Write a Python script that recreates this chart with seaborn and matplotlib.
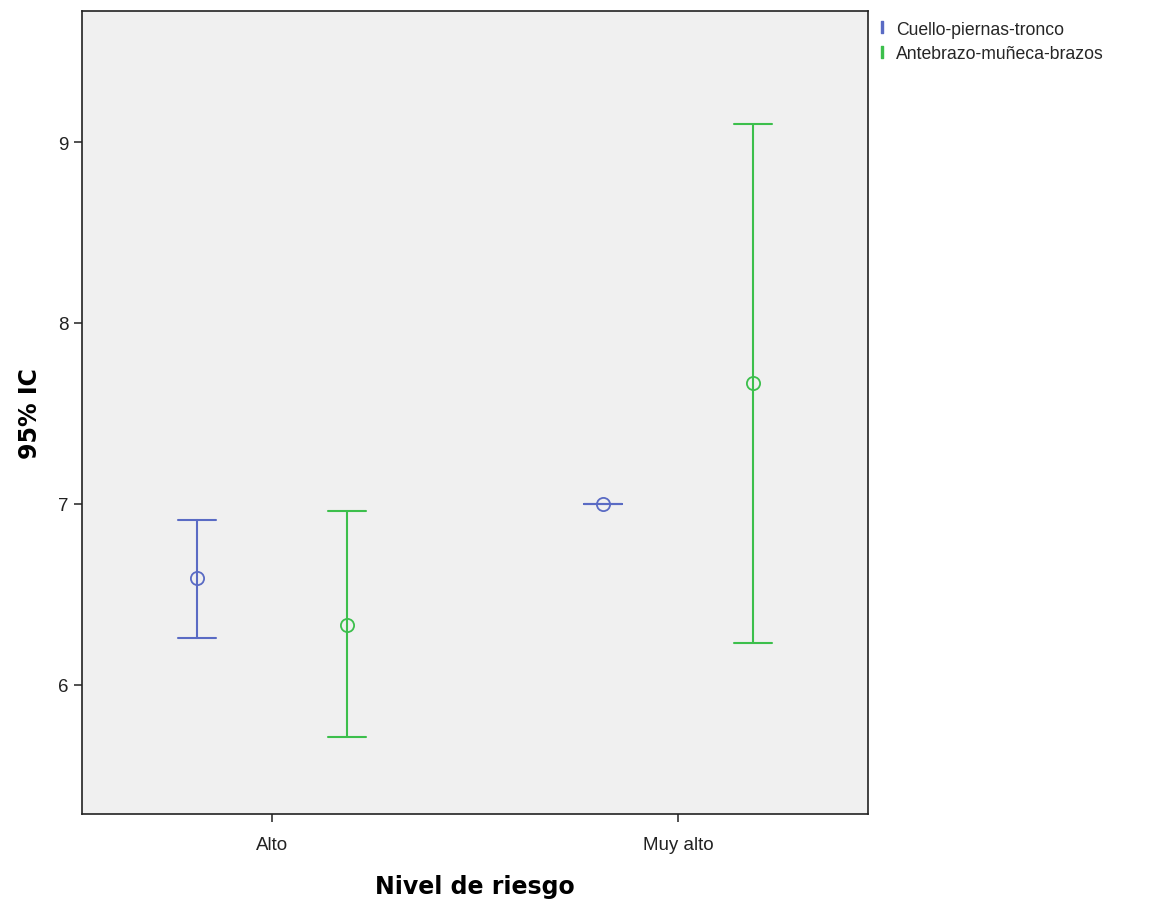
import seaborn as sns
import matplotlib.pyplot as plt
import pandas as pd
from matplotlib.lines import Line2D

sns.set_theme(style="ticks")
plt.rcParams['font.family'] = ['Liberation Sans', 'DejaVu Sans']

niveles = ["Alto", "Muy alto"]
grupos = ["Cuello-piernas-tronco", "Antebrazo-muñeca-brazos"]
colores = ["#5A6BC4", "#3CBF4C"]

# media y limites del IC 95%
media = {"Cuello-piernas-tronco": [6.59, 7.00], "Antebrazo-muñeca-brazos": [6.33, 7.67]}
ic_inf = {"Cuello-piernas-tronco": [6.26, 7.00], "Antebrazo-muñeca-brazos": [5.71, 6.23]}
ic_sup = {"Cuello-piernas-tronco": [6.91, 7.00], "Antebrazo-muñeca-brazos": [6.96, 9.10]}

# tres filas por celda: mediana = media, rango = IC
rows = []
for g in grupos:
    for i, n in enumerate(niveles):
        for v in (ic_inf[g][i], media[g][i], ic_sup[g][i]):
            rows.append({"nivel": n, "grupo": g, "valor": v})
df = pd.DataFrame(rows)

fig = plt.figure(figsize=(11.59, 9.03), dpi=100)
ax = fig.add_axes([0.0708, 0.0975, 0.6782, 0.8892])
ax.set_facecolor("#F0F0F0")

sns.pointplot(data=df, x="nivel", y="valor", hue="grupo", hue_order=grupos,
              order=niveles, palette=colores, estimator="median",
              errorbar=("pi", 100), dodge=0.37, linestyle="none",
              capsize=0.095, markers="o", markersize=9.5,
              err_kws={"linewidth": 1.5}, legend=False, ax=ax)

for line in ax.lines:
    line.set_markerfacecolor("none")
    line.set_markeredgewidth(1.3)

ax.set_xlim(-0.468, 1.468)
ax.set_ylim(5.287, 9.724)
ax.set_yticks([6, 7, 8, 9])
ax.tick_params(axis="both", direction="out", length=6, width=1.2, color="#333333",
               labelsize=13.5, labelcolor="#222222")
ax.tick_params(axis="x", pad=10)
for s in ax.spines.values():
    s.set_color("#222222")
    s.set_linewidth(1.2)

ax.set_xlabel("Nivel de riesgo", fontsize=17, fontweight="bold", labelpad=15,
              family="DejaVu Sans", color="black")
ax.set_ylabel("95% IC", fontsize=17, fontweight="bold", labelpad=12,
              family="DejaVu Sans", color="black")

handles = [Line2D([], [], color=c, marker="$\\mathrm{I}$", linestyle="none", markersize=9)
           for c in colores]
fig.legend(handles, grupos, loc="upper left", bbox_to_anchor=(0.750, 0.984),
           frameon=False, fontsize=12.7, handlelength=0.6, handletextpad=0.5,
           labelspacing=0.45, borderaxespad=0)

fig.savefig("out.png", dpi=100)
